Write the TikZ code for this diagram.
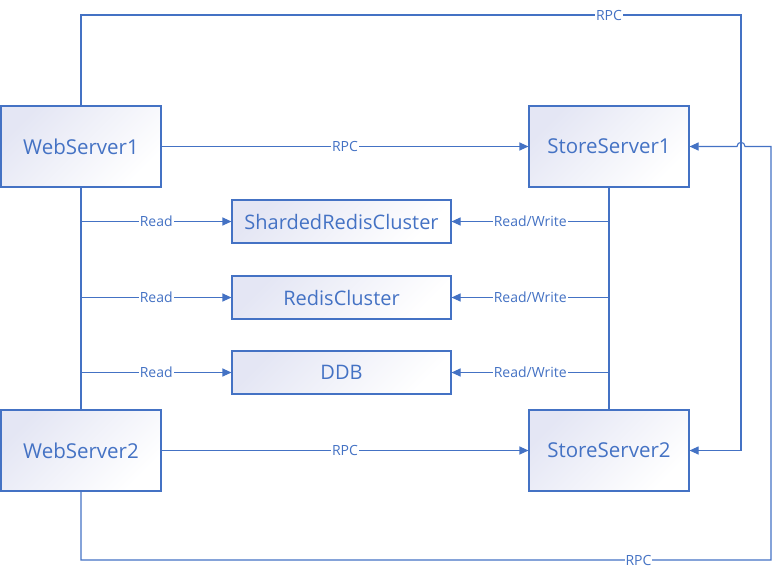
\documentclass[tikz,border=0pt]{standalone}
\usepackage{fontspec}
\setmainfont{Open Sans}
\usetikzlibrary{arrows.meta}
\definecolor{vblue}{HTML}{4472C4}
\definecolor{vlight}{HTML}{E4E6F4}
\tikzset{
  srv/.style={draw=vblue, line width=1.1pt, top color=vlight, bottom color=white, shading angle=45,
    minimum width=160pt, minimum height=81pt, inner sep=0pt, text=vblue, font=\fontsize{20.5}{24}\selectfont},
  store/.style={draw=vblue, line width=1.1pt, top color=vlight, bottom color=white, shading angle=45,
    minimum width=219pt, minimum height=43pt, inner sep=0pt, text=vblue, font=\fontsize{20}{24}\selectfont},
  conn/.style={draw=vblue, line width=1.1pt},
  arr/.style={conn, -{Triangle[length=9pt,width=8pt]}},
  lbl/.style={fill=white, inner sep=1pt, text=vblue, font=\fontsize{14}{16}\selectfont}
}
\begin{document}
\begin{tikzpicture}[x=1pt,y=-1pt]
\useasboundingbox (0,0) rectangle (773,579);
\node[srv] (ws1) at (81,146.5) {WebServer1};
\node[srv] (ss1) at (609,146.5) {StoreServer1};
\node[srv] (ws2) at (81,450.5) {WebServer2};
\node[srv] (ss2) at (609,450.5) {StoreServer2};
\node[store] (src) at (341.5,221.5) {ShardedRedisCluster};
\node[store] (rc) at (341.5,297.5) {RedisCluster};
\node[store] (ddb) at (341.5,372.5) {DDB};
\coordinate (tl) at (81,15);
\coordinate (tr) at (741,15);
\coordinate (bl) at (81,560);
\coordinate (br) at (771,560);
% direct RPC
\draw[arr] (ws1.east) -- (ss1.west) node[lbl, midway] {RPC};
\draw[arr] (ws2.east) -- (ss2.west) node[lbl, midway] {RPC};
% verticals
\draw[conn] (ws1.south) -- (ws2.north);
\draw[conn] (ss1.south) -- (ss2.north);
% reads
\draw[arr] (ws1.south |- src.west) -- (src.west) node[lbl, midway] {Read};
\draw[arr] (ws1.south |- rc.west) -- (rc.west) node[lbl, midway] {Read};
\draw[arr] (ws1.south |- ddb.west) -- (ddb.west) node[lbl, midway] {Read};
\draw[arr] (ss1.south |- src.east) -- (src.east) node[lbl, midway] {Read/Write};
\draw[arr] (ss1.south |- rc.east) -- (rc.east) node[lbl, midway] {Read/Write};
\draw[arr] (ss1.south |- ddb.east) -- (ddb.east) node[lbl, midway] {Read/Write};
% top loop
\draw[arr] (ws1.north) -- (tl) -- node[lbl, pos=0.8] {RPC} (tr) |- (ss2.east);
% bottom loop with hop
\draw[arr] (ws2.south) -- (bl) -- node[lbl, pos=0.808] {RPC} (br) -- (br |- ss1.east)
  -- (745,146.5) .. controls (745,141) and (737,141) .. (737,146.5) -- (ss1.east);
\end{tikzpicture}
\end{document}
